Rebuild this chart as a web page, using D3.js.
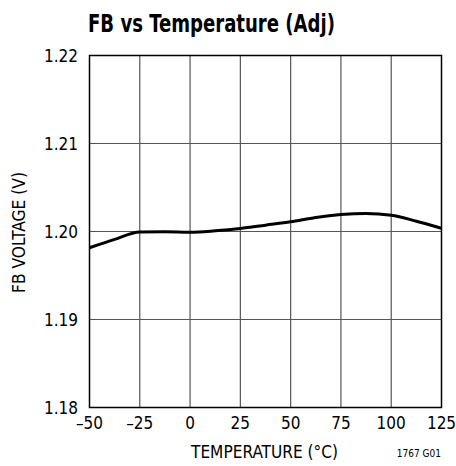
<!DOCTYPE html>
<html>
<head>
<meta charset="utf-8">
<script src="https://cdn.jsdelivr.net/npm/d3@7"></script>
<style>
  body { margin: 0; background: #fff; }
  text { font-family: "Liberation Sans Narrow", "DejaVu Sans", sans-serif; font-stretch: condensed; }
</style>
</head>
<body>
<svg id="chart" width="456" height="466"></svg>
<script>
// curve
var temps = [-50, -37.5, -25, -12.5, 0, 12.5, 25, 37.5, 50, 62.5, 75, 87.5, 100, 112.5, 125];
var volts = [1.19815, 1.19910, 1.19993, 1.19996, 1.19992, 1.20008, 1.20034, 1.20072, 1.2011, 1.2016, 1.20193, 1.20205, 1.20185, 1.20117, 1.20036];
var xTicks = [-50, -25, 0, 25, 50, 75, 100, 125];
var yTicks = [1.18, 1.19, 1.20, 1.21, 1.22];

var svg = d3.select("#chart");
var pLeft = 89.5, pRight = 441.5, pTop = 55.5, pBottom = 407.5;

var x = d3.scaleLinear().domain([-50, 125]).range([pLeft, pRight]);
var y = d3.scaleLinear().domain([1.18, 1.22]).range([pBottom, pTop]);

// grid
svg.append("g").selectAll("line").data(xTicks.slice(1, -1)).enter().append("line")
  .attr("x1", d => x(d)).attr("x2", d => x(d))
  .attr("y1", pTop).attr("y2", pBottom)
  .attr("stroke", "#555").attr("stroke-width", 1.2);
svg.append("g").selectAll("line").data(yTicks.slice(1, -1)).enter().append("line")
  .attr("y1", d => y(d)).attr("y2", d => y(d))
  .attr("x1", pLeft).attr("x2", pRight)
  .attr("stroke", "#555").attr("stroke-width", 1.2);

// curve
var line = d3.line().x(d => x(d[0])).y(d => y(d[1])).curve(d3.curveMonotoneX);
svg.append("path").datum(d3.zip(temps, volts))
  .attr("d", line).attr("fill", "none")
  .attr("stroke", "#000").attr("stroke-width", 3);

// frame
svg.append("rect").attr("x", pLeft).attr("y", pTop)
  .attr("width", pRight - pLeft).attr("height", pBottom - pTop)
  .attr("fill", "none").attr("stroke", "#000").attr("stroke-width", 1.5);

// tick labels
svg.append("g").selectAll("text").data(yTicks).enter().append("text")
  .attr("x", 78).attr("y", d => y(d) + 6)
  .attr("text-anchor", "end").attr("font-size", 17)
  .text(d => d.toFixed(2));
svg.append("g").selectAll("text").data(xTicks).enter().append("text")
  .attr("x", d => x(d)).attr("y", 429)
  .attr("text-anchor", "middle").attr("font-size", 17)
  .text(d => d < 0 ? "\u2013" + Math.abs(d) : d);

// titles
svg.append("text").attr("x", 88).attr("y", 32)
  .attr("font-size", 25).attr("font-weight", "bold")
  .attr("textLength", 247).attr("lengthAdjust", "spacingAndGlyphs")
  .text("FB vs Temperature (Adj)");
svg.append("text").attr("x", 191).attr("y", 458)
  .attr("font-size", 17)
  .attr("textLength", 147).attr("lengthAdjust", "spacingAndGlyphs")
  .text("TEMPERATURE (\u00B0C)");
svg.append("text").attr("transform", "translate(25,293) rotate(-90)")
  .attr("font-size", 17)
  .attr("textLength", 121).attr("lengthAdjust", "spacingAndGlyphs")
  .text("FB VOLTAGE (V)");
svg.append("text").attr("x", 441).attr("y", 457)
  .attr("text-anchor", "end").attr("font-size", 10)
  .text("1767 G01");
</script>
</body>
</html>
